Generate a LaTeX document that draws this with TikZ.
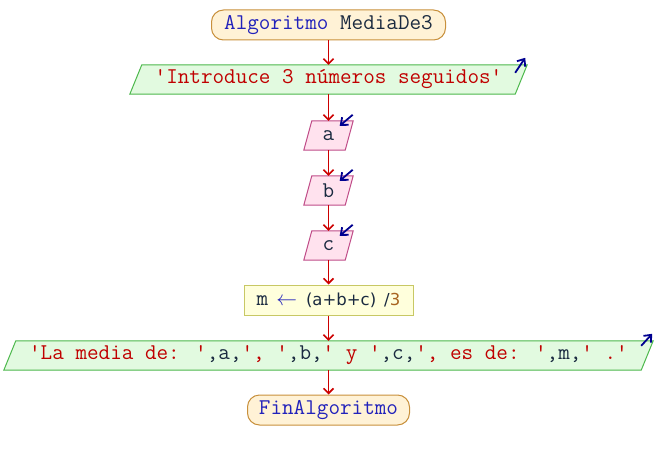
\documentclass[tikz,border=0pt]{standalone}
\usepackage{fontspec}
\newfontfamily\exprfont{DejaVu Sans}
\usetikzlibrary{arrows.meta,backgrounds}

\definecolor{flowred}{HTML}{CC0000}
\definecolor{strred}{HTML}{C00000}
\definecolor{kwblue}{HTML}{2222BB}
\definecolor{varink}{HTML}{1A2A40}
\definecolor{ionavy}{HTML}{000090}
\definecolor{termfill}{HTML}{FFF2D6}
\definecolor{termdraw}{HTML}{C8903C}
\definecolor{outfill}{HTML}{E2FAE0}
\definecolor{outdraw}{HTML}{4CB84C}
\definecolor{infill}{HTML}{FFE2EE}
\definecolor{indraw}{HTML}{C04C88}
\definecolor{asgfill}{HTML}{FFFFDC}
\definecolor{asgdraw}{HTML}{C8C864}
\definecolor{numbrown}{HTML}{A86420}

% string literal and variable text
\newcommand\strp[1]{\textcolor{strred}{#1}}
\newcommand\varp[1]{\textcolor{varink}{#1}}
% slanted (input/output) outline around a rectangular node
\newcommand\slantbox[4]{%
  \draw[fill=#3, draw=#4, line width=1pt]
    ([xshift=#2]#1.north west) -- ([xshift=#2]#1.north east) --
    ([xshift=-#2]#1.south east) -- ([xshift=-#2]#1.south west) -- cycle;}

\tikzset{
  codefont/.style={font=\ttfamily\fontsize{22.5}{24}\selectfont},
  terminal/.style={codefont, rectangle, rounded corners=12pt, draw=termdraw,
    fill=termfill, line width=1pt, minimum height=30pt, inner sep=0pt},
  slanted/.style={codefont, rectangle, minimum height=29pt, inner sep=0pt},
  assign/.style={codefont, rectangle, draw=asgdraw, fill=asgfill,
    line width=1pt, minimum height=30pt, inner sep=0pt},
  flow/.style={draw=flowred, line width=1.6pt,
    -{Straight Barb[length=5pt,width=10pt]}},
  ioarrow/.style={draw=ionavy, line width=1.8pt,
    -{Straight Barb[length=6pt,width=10pt]}}
}

\begin{document}
\begin{tikzpicture}[x=1pt,y=-1pt]
\useasboundingbox (0,0) rectangle (656,460);

\node[terminal, minimum width=234pt] (start) at (328.5,25)
  {\textcolor{kwblue}{Algoritmo} \varp{MediaDe3}};
\node[slanted, minimum width=385pt] (out1) at (328.5,79.5)
  {\strp{'Introduce 3 números seguidos'}};
\node[slanted, minimum width=41pt] (ina) at (328.5,135.5) {\varp{a}};
\node[slanted, minimum width=41pt] (inb) at (328.5,190.5) {\varp{b}};
\node[slanted, minimum width=41pt] (inc) at (328.5,245.5) {\varp{c}};
\node[assign, minimum width=169pt] (calc) at (328.5,300)
  {\varp{m}\hspace{8pt}\textcolor{kwblue}{$\leftarrow$}\hspace{9pt}{\exprfont\fontsize{16.5}{18}\selectfont\varp{(a+b+c)}\hspace{8pt}\varp{/}\textcolor{numbrown}{3}}};
\node[slanted, minimum width=637pt] (out2) at (328.5,355.5)
  {\strp{'La media de: '}\varp{,a,}\strp{', '}\varp{,b,}\strp{' y '}\varp{,c,}\strp{', es de: '}\varp{,m,}\strp{' .'}};
\node[terminal, minimum width=162pt] (stop) at (328.5,410)
  {\textcolor{kwblue}{FinAlgoritmo}};

\begin{scope}[on background layer]
  \slantbox{out1}{6pt}{outfill}{outdraw}
  \slantbox{ina}{4pt}{infill}{indraw}
  \slantbox{inb}{4pt}{infill}{indraw}
  \slantbox{inc}{4pt}{infill}{indraw}
  \slantbox{out2}{6pt}{outfill}{outdraw}
\end{scope}

% output / input markers
\draw[ioarrow] ([shift={(-6,8)}]out1.north east) -- ([shift={(4,-7)}]out1.north east);
\foreach \n in {ina,inb,inc}
  \draw[ioarrow] ([shift={(3.5,-6)}]\n.north east) -- ([shift={(-9.5,5)}]\n.north east);
\draw[ioarrow] ([shift={(-6,5)}]out2.north east) -- ([shift={(5,-7)}]out2.north east);

% control flow
\draw[flow] (start) -- (out1);
\draw[flow] (out1) -- (ina);
\draw[flow] (ina) -- (inb);
\draw[flow] (inb) -- (inc);
\draw[flow] (inc) -- (calc);
\draw[flow] (calc) -- (out2);
\draw[flow] (out2) -- (stop);
\end{tikzpicture}
\end{document}
